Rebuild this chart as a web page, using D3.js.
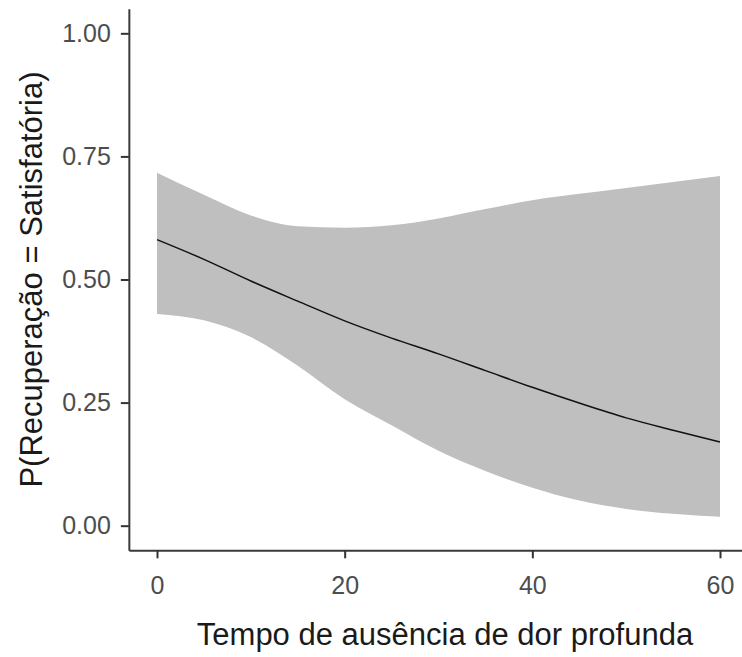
<!DOCTYPE html>
<html>
<head>
<meta charset="utf-8">
<script src="https://cdn.jsdelivr.net/npm/d3@7"></script>
<style>
  body { margin: 0; background: #fff; }
  svg { display: block; font-family: "Liberation Sans", Arial, sans-serif; }
</style>
</head>
<body>
<div id="chart"></div>
<script>
// predicted probability along the x values, with its confidence band
const timeValues = [0, 5, 10, 15, 20, 25, 30, 35, 40, 45, 50, 55, 60];
const fitValues = [0.581, 0.541, 0.497, 0.456, 0.416, 0.381, 0.349, 0.315, 0.281, 0.249, 0.219, 0.194, 0.170];
const upperValues = [0.717, 0.672, 0.630, 0.608, 0.605, 0.610, 0.624, 0.643, 0.661, 0.674, 0.686, 0.698, 0.710];
const lowerValues = [0.430, 0.417, 0.383, 0.325, 0.257, 0.204, 0.152, 0.111, 0.077, 0.051, 0.034, 0.024, 0.018];

const xTicks = [0, 20, 40, 60];
const yTicks = [0, 0.25, 0.5, 0.75, 1];
const xTitle = "Tempo de ausência de dor profunda";
const yTitle = "P(Recuperação = Satisfatória)";

const width = 742;
const height = 657;

let data = timeValues.map((t, i) => ({
  t: t,
  fit: fitValues[i],
  lo: lowerValues[i],
  hi: upperValues[i]
}));

// ggplot style 5% expansion on both scales
let x = d3.scaleLinear().domain([-3, 63]).range([128.85, 748.15]);
let y = d3.scaleLinear().domain([-0.05, 1.05]).range([550.3, 8.7]);

let svg = d3
  .select("#chart")
  .append("svg")
  .attr("width", width)
  .attr("height", height);

svg
  .append("path")
  .datum(data)
  .attr("fill", "#bfbfbf")
  .attr("d", d3.area()
    .curve(d3.curveMonotoneX)
    .x((d) => x(d.t))
    .y0((d) => y(d.lo))
    .y1((d) => y(d.hi)));

svg
  .append("path")
  .datum(data)
  .attr("fill", "none")
  .attr("stroke", "#111")
  .attr("stroke-width", 1.5)
  .attr("d", d3.line()
    .curve(d3.curveMonotoneX)
    .x((d) => x(d.t))
    .y((d) => y(d.fit)));

let xAxis = svg
  .append("g")
  .attr("transform", `translate(0,${y.range()[0]})`)
  .call(d3.axisBottom(x)
    .tickValues(xTicks)
    .tickFormat(d3.format("d"))
    .tickSize(8)
    .tickSizeOuter(0)
    .tickPadding(18));

let yAxis = svg
  .append("g")
  .attr("transform", `translate(${x.range()[0]},0)`)
  .call(d3.axisLeft(y)
    .tickValues(yTicks)
    .tickFormat(d3.format(".2f"))
    .tickSize(8)
    .tickSizeOuter(0)
    .tickPadding(10));

[xAxis, yAxis].forEach((g) => {
  g.select(".domain").attr("stroke", "#3a3a3a").attr("stroke-width", 2);
  g.selectAll(".tick line").attr("stroke", "#333").attr("stroke-width", 2);
  g.selectAll(".tick text")
    .attr("fill", "#4d4d4d")
    .attr("font-size", 25)
    .attr("font-family", "Liberation Sans, Arial, sans-serif");
});

svg
  .append("text")
  .attr("x", 445)
  .attr("y", 645)
  .attr("text-anchor", "middle")
  .attr("font-size", 31)
  .attr("fill", "#1a1a1a")
  .text(xTitle);

svg
  .append("text")
  .attr("transform", `translate(42,${(y.range()[0] + y.range()[1]) / 2}) rotate(-90)`)
  .attr("text-anchor", "middle")
  .attr("font-size", 31)
  .attr("fill", "#1a1a1a")
  .text(yTitle);
</script>
</body>
</html>
